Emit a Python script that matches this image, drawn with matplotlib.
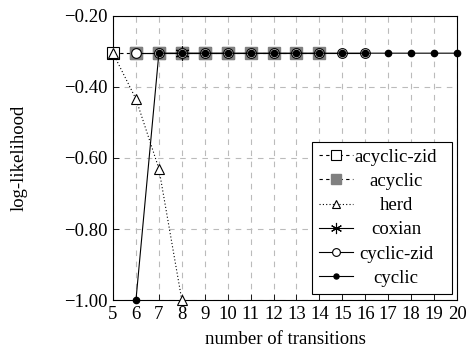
import matplotlib
matplotlib.use("Agg")
import matplotlib.pyplot as plt
from matplotlib.transforms import Affine2D

plt.rcParams['font.family'] = ['Liberation Serif', 'DejaVu Serif']
plt.rcParams['axes.unicode_minus'] = True

# data
acyc_zid_x = [5, 6, 7, 8, 9, 10]
acyc_zid_y = [-0.305] * 6
acyc_x = [6, 7, 8, 9, 10, 11, 12, 13, 14]
acyc_y = [-0.305] * 9
herd_x = [5, 6, 7, 8]
herd_y = [-0.305, -0.434, -0.63, -1.00]
coxian_x = [8]
coxian_y = [-0.305]
cyc_zid_x = [6, 7, 8, 9, 10, 11, 12, 13, 14, 15, 16]
cyc_zid_y = [-0.305] * 11
cyc_x = [6, 7, 8, 9, 10, 11, 12, 13, 14, 15, 16, 17, 18, 19, 20]
cyc_y = [-1.00] + [-0.305] * 14

xticks = list(range(5, 21))
yticks = [-1.0, -0.8, -0.6, -0.4, -0.2]
ytick_labels = ['\u22121.00', '\u22120.80', '\u22120.60', '\u22120.40', '\u22120.20']

FS = 13.5

fig = plt.figure(figsize=(4.68, 3.53), dpi=100)
ax = fig.add_axes([0.2415, 0.150, 0.735, 0.805])

common = dict(color='black', lw=0.8, clip_on=False)
ax.plot(acyc_zid_x, acyc_zid_y, linestyle=(0, (3, 3)),
        marker='s', markersize=9, markerfacecolor='white', markeredgecolor='black',
        markeredgewidth=0.8, label='acyclic-zid', zorder=3, **common)
ax.plot(acyc_x, acyc_y, linestyle=(0, (3, 3)),
        marker='s', markersize=9, markerfacecolor='#808080', markeredgecolor='#808080',
        label='acyclic', zorder=4, **common)
ax.plot(herd_x, herd_y, linestyle=(0, (1, 2)),
        marker='^', markersize=7, markerfacecolor='white', markeredgecolor='black',
        markeredgewidth=0.8, label='herd', zorder=5, **common)
ax.plot(coxian_x, coxian_y, linestyle='-',
        marker=(6, 2, 0), markersize=10, markeredgecolor='black', markeredgewidth=0.8,
        label='coxian', zorder=6, **common)
ax.plot(cyc_zid_x, cyc_zid_y, linestyle='-',
        marker='o', markersize=7, markerfacecolor='white', markeredgecolor='black',
        markeredgewidth=0.8, label='cyclic-zid', zorder=7, **common)
ax.plot(cyc_x, cyc_y, linestyle='-',
        marker='o', markersize=4.5, markerfacecolor='black', markeredgecolor='black',
        label='cyclic', zorder=8, **common)

ax.set_xlim(5, 20)
ax.set_ylim(-1.0, -0.2)
ax.set_xticks(xticks)
ax.set_xticklabels([str(v) for v in xticks])
ax.set_yticks(yticks)
ax.set_yticklabels(ytick_labels)
ax.tick_params(direction='in', length=4, width=0.6, labelsize=FS, pad=4)
ax.grid(True, linestyle=(0, (5, 5)), color='#bbbbbb', lw=0.8, zorder=0)
ax.set_axisbelow(True)
for s in ax.spines.values():
    s.set_linewidth(0.8)

ax.set_xlabel('number of transitions', fontsize=FS, labelpad=6)
ax.set_ylabel('log-likelihood', fontsize=FS, labelpad=26)

leg = ax.legend(loc='upper left', bbox_to_anchor=(0.5785, 0.556, 0.407, 0.0),
                mode='expand', fontsize=FS,
                frameon=True, fancybox=False, edgecolor='black', framealpha=1,
                numpoints=1, handlelength=1.85, borderpad=0.35, labelspacing=0.38,
                handletextpad=0.3, borderaxespad=0, markerscale=0.8)
leg.get_frame().set_linewidth(0.8)
leg.set_zorder(20)

# center legend texts in their column
fig.canvas.draw()
renderer = fig.canvas.get_renderer()
lb = leg.get_window_extent(renderer)
cx = lb.x0 + 0.6 * lb.width
for t in leg.get_texts():
    e = t.get_window_extent(renderer)
    dx = cx - (e.x0 + e.x1) / 2
    t.set_transform(t.get_transform() + Affine2D().translate(dx, 0))

fig.savefig('out.png', dpi=100)
